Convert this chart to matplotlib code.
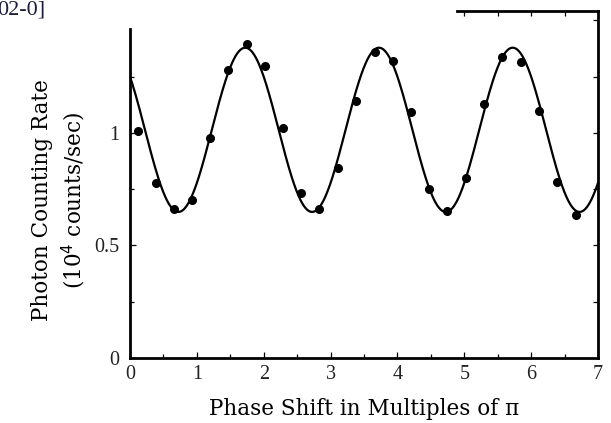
import numpy as np
import matplotlib
matplotlib.use("Agg")
import matplotlib.pyplot as plt
from matplotlib.ticker import FixedLocator

# measured points (phase shift in multiples of pi, rate in 1e4 counts/sec)
phase = [0.115, 0.39, 0.66, 0.92, 1.196, 1.47, 1.75, 2.02, 2.29, 2.56, 2.83, 3.11,
         3.38, 3.66, 3.94, 4.20, 4.47, 4.74, 5.02, 5.29, 5.57, 5.85, 6.12, 6.39, 6.67]
rate = [1.009, 0.776, 0.661, 0.702, 0.976, 1.279, 1.394, 1.298, 1.024, 0.733, 0.661, 0.846,
        1.144, 1.361, 1.320, 1.093, 0.752, 0.655, 0.799, 1.129, 1.339, 1.314, 1.096, 0.782, 0.636]

# fitted sinusoid, parameters
fit_offset = 1.014
fit_amplitude = 0.365
fit_period = 2.0
fit_peak = 1.724

x_ticks = [0, 1, 2, 3, 4, 5, 6, 7]
x_minor = [0.5, 1.5, 2.5, 3.5, 4.5, 5.5, 6.5]
y_ticks = [0, 0.5, 1]
y_tick_labels = ["0", "0.5", "1"]
y_minor = [0.25, 0.75, 1.25]
right_ticks = [0.25, 0.5, 0.75, 1.0, 1.25, 1.5]
top_ticks = [5, 5.5, 6, 6.5]

plt.rcParams["font.family"] = ["Liberation Serif", "DejaVu Serif"]

fig = plt.figure(figsize=(6.11, 4.23), dpi=100)
ax = fig.add_axes([130 / 611, 1 - 358 / 423, 468 / 611, 347 / 423])

xs = np.linspace(0, 7, 600)
curve = fit_offset + fit_amplitude * np.cos(2 * np.pi * (xs - fit_peak) / fit_period)
ax.plot(xs, curve, color="black", lw=1.6, zorder=2)
ax.plot(phase, rate, "o", color="black", ms=5.5, zorder=3)

ax.set_xlim(0, 7)
ax.set_ylim(0, 1.542)
ax.xaxis.set_major_locator(FixedLocator(x_ticks))
ax.xaxis.set_minor_locator(FixedLocator(x_minor))
ax.yaxis.set_major_locator(FixedLocator(y_ticks))
ax.set_yticklabels(y_tick_labels)
ax.yaxis.set_minor_locator(FixedLocator(y_minor))

ax.tick_params(which="both", direction="in", top=False, right=False,
               labelsize=14.5, labelcolor="#222222", width=0.9)
ax.tick_params(which="major", length=4.5)
ax.tick_params(which="minor", length=3)
ax.tick_params(axis="x", pad=5)
ax.tick_params(axis="y", pad=8)

for side in ["left", "right", "top", "bottom"]:
    ax.spines[side].set_linewidth(2)
# the scan is clipped at the top-left: only part of the frame is left
ax.spines["top"].set_visible(False)
ax.spines["right"].set_visible(False)
ax.spines["left"].set_bounds(0, 1.462)

top = ax.secondary_xaxis("top")
top.set_xticks(top_ticks)
top.tick_params(direction="in", length=3.5, width=0.9, labeltop=False)
top.spines["top"].set_bounds(4.89, 7)
top.spines["top"].set_linewidth(2)

right = ax.secondary_yaxis("right")
right.set_yticks(right_ticks)
right.tick_params(direction="in", length=3.5, width=0.9, labelright=False)
right.spines["right"].set_linewidth(2)

ax.set_xlabel("Phase Shift in Multiples of π", fontsize=15.5, labelpad=10,
              family=["DejaVu Serif"])
ax.set_ylabel("Photon Counting Rate\n(10$^4$ counts/sec)", fontsize=15.5,
              linespacing=1.3, family=["DejaVu Serif"])
ax.yaxis.set_label_coords(-0.09, 0.455)

fig.text(-3 / 611, 1 - 15 / 423, "02-0]", fontsize=16, color="#1c1c3c",
         va="baseline", ha="left")

fig.savefig("out.png", dpi=100)
